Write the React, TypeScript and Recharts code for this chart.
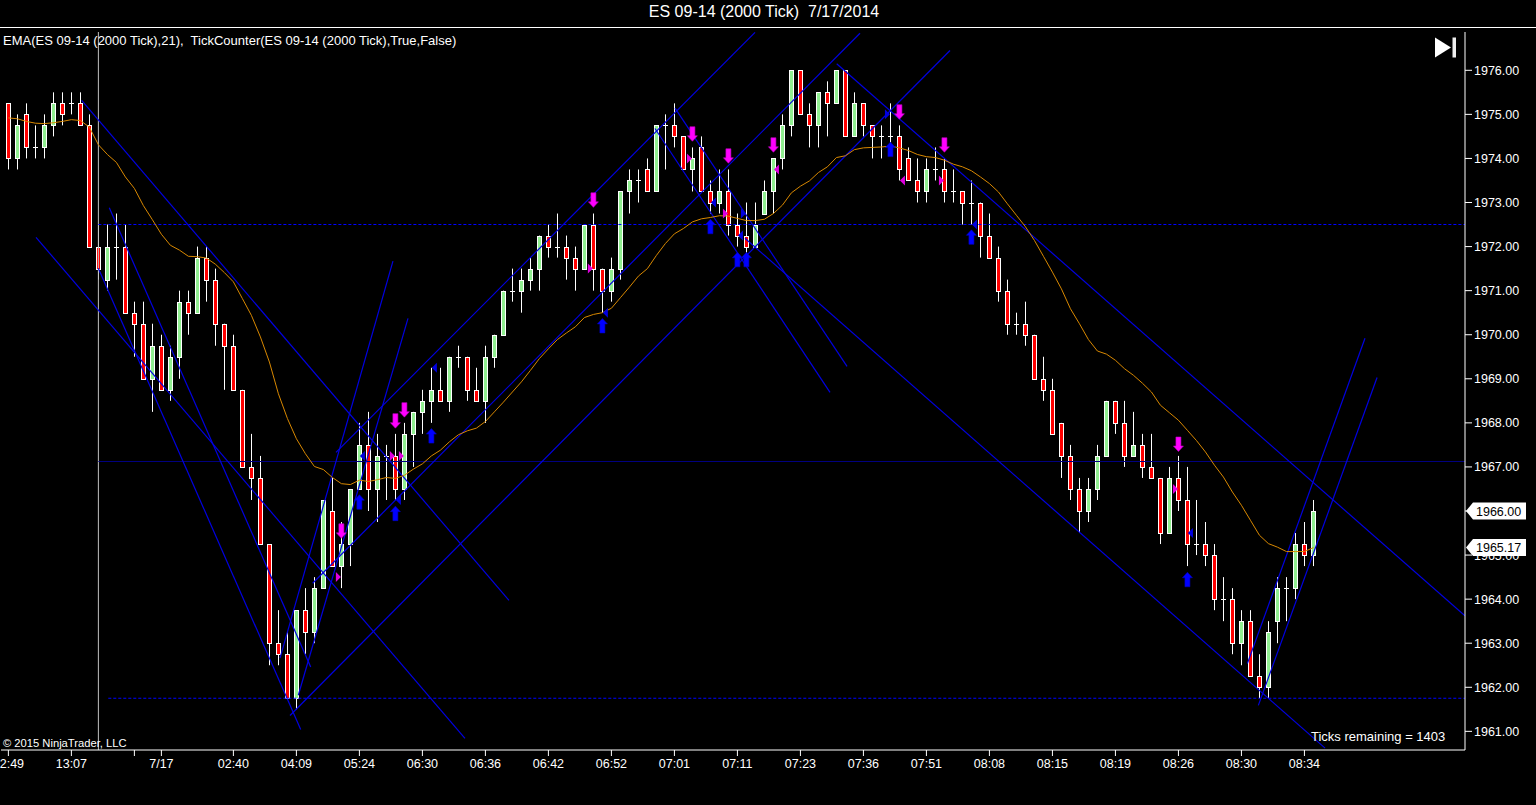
import { ComposedChart, Bar, Line, Scatter, XAxis, YAxis, ReferenceLine, ReferenceDot } from 'recharts';

// candles at the 0.25 tick size
const opens = [
  1975.25, 1974, 1975, 1974.25, 1974.25, 1974.75, 1975.25, 1975.25, 1975.25, 1974.75,
  1972, 1971.25, 1972, 1972, 1970.5, 1970.25, 1969, 1969.75, 1968.75, 1969.5,
  1970.75, 1970.5, 1971.75, 1971.25, 1970.25, 1969.75, 1968.75, 1967, 1966.75, 1965.25,
  1963, 1962.75, 1961.75, 1963.75, 1963.25, 1964.25, 1966, 1964.75, 1965.25, 1966.5,
  1967.5, 1966.5, 1967.25, 1967.25, 1966.5, 1967.75, 1968.25, 1968.5, 1968.75, 1968.5,
  1969.5, 1969.5, 1968.75, 1968.5, 1969.5, 1970, 1971, 1971, 1971.25, 1971.5,
  1972.25, 1972, 1972, 1971.75, 1971.5, 1972.5, 1971.5, 1971, 1971.5, 1973.25,
  1973.5, 1973.75, 1973.25, 1974.75, 1974.75, 1974.5, 1973.75, 1974.25, 1973.25, 1973,
  1973.25, 1972.5, 1972.25, 1972, 1972.75, 1973.25, 1974, 1974.75, 1976, 1975,
  1974.75, 1975.5, 1975.25, 1976, 1974.5, 1975.25, 1974.75, 1974.5, 1974.5, 1974.5,
  1974, 1973.5, 1973.25, 1973.75, 1973.75, 1973.25, 1973.25, 1973, 1973, 1972.25,
  1971.75, 1971, 1970.25, 1970.25, 1970, 1969, 1968.75, 1968, 1967.25, 1966.5,
  1966, 1966.5, 1967.25, 1968.5, 1968, 1967.25, 1967.5, 1967, 1966.75, 1965.5,
  1966.75, 1966.25, 1965.25, 1965.25, 1965, 1964, 1964, 1963, 1963.5, 1962.25,
  1962, 1963.5, 1964.25, 1964.25, 1965.25, 1965,
];
const highs = [
  1975.25, 1975, 1975.25, 1974.75, 1975, 1975.5, 1975.5, 1975.5, 1975.5, 1975,
  1972.5, 1972.5, 1972.75, 1972.5, 1970.75, 1970.75, 1970.25, 1970, 1969.75, 1971,
  1971, 1972, 1972, 1971.5, 1970.25, 1970, 1968.75, 1967.75, 1967.25, 1965.25,
  1963.75, 1963.25, 1963.75, 1964.25, 1964.5, 1966.25, 1966.75, 1965.75, 1966.5, 1968,
  1968.25, 1967.75, 1967.5, 1967.75, 1968, 1968.25, 1968.75, 1969.25, 1969.25, 1969.5,
  1969.75, 1969.5, 1969.25, 1969.75, 1970, 1971, 1971.5, 1971.5, 1971.75, 1972.25,
  1972.5, 1972.75, 1972.25, 1972, 1972.5, 1972.75, 1971.5, 1971.75, 1973.25, 1973.75,
  1973.75, 1974, 1974.75, 1975, 1975.25, 1974.5, 1974.25, 1974.5, 1973.5, 1973.75,
  1973.75, 1972.75, 1973, 1973, 1973.5, 1974, 1975, 1976, 1976, 1975.25,
  1975.5, 1975.75, 1976, 1976, 1975.5, 1975.25, 1974.75, 1974.75, 1975.25, 1974.75,
  1974.25, 1974, 1974, 1974.25, 1974, 1973.75, 1973.25, 1973.5, 1973, 1972.75,
  1972, 1971.25, 1970.5, 1970.75, 1970, 1969.5, 1969, 1968, 1967.5, 1966.75,
  1966.75, 1967.5, 1968.5, 1968.5, 1968.5, 1968.25, 1967.75, 1967.75, 1966.75, 1967,
  1967.25, 1967, 1966.25, 1965.75, 1965.25, 1964.5, 1964.25, 1963.75, 1963.75, 1962.75,
  1963.5, 1964.5, 1964.5, 1965.5, 1965.75, 1966.25,
];
const lows = [
  1973.75, 1973.75, 1974, 1974, 1974, 1974.5, 1974.75, 1975, 1974.75, 1972,
  1971.25, 1971, 1971.25, 1970.5, 1969.5, 1969, 1968.25, 1968.75, 1968.5, 1969,
  1970, 1970.5, 1970.75, 1969.75, 1968.75, 1968.75, 1967, 1966.25, 1965.25, 1962.5,
  1962.5, 1961.75, 1961.5, 1962.75, 1963, 1964.25, 1964.75, 1964.25, 1964.75, 1966.5,
  1966, 1965.75, 1966.25, 1966.25, 1966.25, 1967, 1967.75, 1968, 1968.5, 1968.25,
  1969.25, 1968.5, 1968.5, 1968, 1969.25, 1970, 1970.75, 1970.5, 1971, 1971,
  1971.75, 1971.75, 1971.25, 1971, 1971.5, 1971, 1970.5, 1970.75, 1971.25, 1972.75,
  1973, 1973.25, 1973.25, 1973.75, 1974.25, 1973.75, 1973.25, 1973.25, 1972.75, 1972.75,
  1972.25, 1972, 1971.75, 1972, 1972.75, 1972.75, 1973.75, 1974.5, 1975, 1974.25,
  1974.25, 1974.5, 1975.25, 1974.5, 1974.5, 1974.5, 1974, 1974, 1974.25, 1973.5,
  1973.5, 1973, 1973, 1973.5, 1973, 1973, 1972.5, 1972.5, 1971.75, 1971.75,
  1970.75, 1970, 1970, 1969.75, 1969, 1968.5, 1967.75, 1966.75, 1966.25, 1965.5,
  1965.75, 1966.25, 1967.25, 1967.75, 1967, 1967.25, 1966.75, 1966.75, 1965.25, 1965.5,
  1966, 1964.75, 1965, 1964.75, 1963.75, 1963.5, 1962.75, 1962.5, 1962.25, 1961.75,
  1961.75, 1963, 1963.5, 1964, 1964.75, 1964.75,
];
const closes = [
  1974, 1974.75, 1974.25, 1974.25, 1974.75, 1975.25, 1975, 1975.25, 1974.75, 1972,
  1971.5, 1972, 1972, 1970.5, 1970.25, 1969, 1969.75, 1968.75, 1969.5, 1970.75,
  1970.5, 1971.75, 1971.25, 1970.25, 1969.75, 1968.75, 1967, 1966.75, 1965.25, 1963,
  1962.75, 1961.75, 1963.75, 1963.25, 1964.25, 1966.25, 1964.75, 1965.25, 1966.5, 1967.5,
  1966.5, 1967.25, 1967.25, 1966.5, 1967.75, 1968.25, 1968.5, 1968.75, 1968.5, 1969.5,
  1969.5, 1968.75, 1968.5, 1969.5, 1970, 1971, 1971, 1971.25, 1971.5, 1972.25,
  1972, 1972, 1971.75, 1971.5, 1972.5, 1971.5, 1971, 1971.5, 1973.25, 1973.5,
  1973.5, 1973.25, 1974.75, 1974.75, 1974.5, 1973.75, 1974, 1973.25, 1973, 1973.25,
  1972.5, 1972.25, 1972, 1972.5, 1973.25, 1974, 1974.75, 1976, 1975, 1974.75,
  1975.5, 1975.25, 1976, 1974.5, 1975.25, 1974.75, 1974.5, 1974.5, 1974.5, 1973.75,
  1973.5, 1973.25, 1973.75, 1973.75, 1973.25, 1973.25, 1973, 1973, 1972.25, 1971.75,
  1971, 1970.25, 1970.25, 1970, 1969, 1968.75, 1967.75, 1967.25, 1966.5, 1966,
  1966.5, 1967.25, 1968.5, 1968, 1967.25, 1967.5, 1967, 1966.75, 1965.5, 1966.75,
  1966.25, 1965.25, 1965.25, 1965, 1964, 1964, 1963, 1963.5, 1962.25, 1962,
  1963.25, 1964.25, 1964.25, 1965.25, 1965, 1966,
];
const ema = [
  1974.92, 1974.9, 1974.84, 1974.8, 1974.79, 1974.81, 1974.84, 1974.88, 1974.86, 1974.71,
  1974.31, 1974.09, 1973.91, 1973.58, 1973.32, 1972.93, 1972.61, 1972.28, 1972.03, 1971.92,
  1971.78, 1971.77, 1971.74, 1971.6, 1971.41, 1971.2, 1970.82, 1970.44, 1969.95, 1969.38,
  1968.66, 1968.1, 1967.64, 1967.3, 1967.01, 1966.94, 1966.76, 1966.62, 1966.6, 1966.7,
  1966.67, 1966.71, 1966.76, 1966.74, 1966.81, 1966.95, 1967.07, 1967.25, 1967.38, 1967.57,
  1967.73, 1967.82, 1967.88, 1968.03, 1968.25, 1968.47, 1968.7, 1968.93, 1969.19, 1969.46,
  1969.68, 1969.89, 1970.04, 1970.18, 1970.39, 1970.46, 1970.5, 1970.6, 1970.84, 1971.08,
  1971.33, 1971.5, 1971.8, 1972.07, 1972.29, 1972.41, 1972.56, 1972.63, 1972.66, 1972.7,
  1972.69, 1972.64, 1972.59, 1972.59, 1972.62, 1972.75, 1972.94, 1973.22, 1973.37, 1973.49,
  1973.68, 1973.81, 1974.02, 1974.06, 1974.2, 1974.24, 1974.25, 1974.26, 1974.28, 1974.24,
  1974.18, 1974.09, 1974.04, 1974.02, 1973.96, 1973.87, 1973.81, 1973.72, 1973.58, 1973.43,
  1973.24, 1972.97, 1972.71, 1972.45, 1972.14, 1971.78, 1971.42, 1971.04, 1970.59, 1970.25,
  1969.89, 1969.63, 1969.56, 1969.42, 1969.23, 1969.08, 1968.9, 1968.7, 1968.4, 1968.23,
  1968.06, 1967.83, 1967.6, 1967.34, 1967.04, 1966.77, 1966.43, 1966.13, 1965.79, 1965.45,
  1965.26, 1965.18, 1965.08, 1965.08, 1965.08, 1965.17,
];

const xTicks = [0, 7, 14, 17, 25, 32, 39, 46, 53, 60, 67, 74, 81, 88, 95, 102, 109, 116, 123, 130, 137, 144];
const xLabels = ['12:49', '13:07', '', '7/17', '02:40', '04:09', '05:24', '06:30', '06:36', '06:42', '06:52', '07:01', '07:11', '07:23', '07:36', '07:51', '08:08', '08:15', '08:19', '08:26', '08:30', '08:34'];
const yTicks = [1961, 1962, 1963, 1964, 1965, 1966, 1967, 1968, 1969, 1970, 1971, 1972, 1973, 1974, 1975, 1976];

// drawn trend lines: [bar, price, bar, price]
const trendLines = [
  [8.14, 1975.32, 55.62, 1963.97],
  [3.07, 1972.21, 50.73, 1960.84],
  [11.21, 1972.88, 33.59, 1962.46],
  [9.99, 1971.51, 32.48, 1961.04],
  [30.18, 1962.66, 42.73, 1971.67],
  [32.21, 1961.82, 44.4, 1970.37],
  [36.4, 1967.33, 82.96, 1976.86],
  [33.81, 1964.36, 94.62, 1976.84],
  [31.29, 1961.36, 104.62, 1976.45],
  [71.84, 1974.68, 91.29, 1968.69],
  [74.07, 1975.14, 93.18, 1969.28],
  [92.03, 1976.15, 161.84, 1963.62],
  [81.84, 1972.19, 146.29, 1960.62],
  [137.66, 1962.54, 150.73, 1969.92],
  [138.88, 1961.59, 152.07, 1969.03],
];

const downArrows = [
  { x: 37, y: 1965.55 }, { x: 43, y: 1968.05 }, { x: 44, y: 1968.3 }, { x: 65, y: 1973.06 }, { x: 76, y: 1974.56 },
  { x: 80, y: 1974.06 }, { x: 85, y: 1974.31 }, { x: 99, y: 1975.06 }, { x: 104, y: 1974.31 }, { x: 130, y: 1967.52 },
];
const upArrows = [
  { x: 39, y: 1966.2 }, { x: 43, y: 1965.94 }, { x: 47, y: 1967.7 }, { x: 66, y: 1970.2 }, { x: 78, y: 1972.45 },
  { x: 81, y: 1971.7 }, { x: 82, y: 1971.7 }, { x: 98, y: 1974.2 }, { x: 107, y: 1972.21 }, { x: 131, y: 1964.44 },
];
const magentaRight = [
  { x: 37, y: 1964.5 }, { x: 43, y: 1967.25 }, { x: 44, y: 1967.25 }, { x: 65, y: 1971.5 },
  { x: 76, y: 1974 }, { x: 80, y: 1972.75 }, { x: 104, y: 1973.5 }, { x: 130, y: 1966.5 },
];
const magentaLeft = [{ x: 85, y: 1973.75 }, { x: 99, y: 1973.5 }];
const blueLeft = [
  { x: 39, y: 1967.25 }, { x: 43, y: 1966.25 }, { x: 47, y: 1969.25 }, { x: 66, y: 1970.5 },
  { x: 78, y: 1973 }, { x: 81, y: 1972.25 }, { x: 107, y: 1972.5 }, { x: 131, y: 1965.5 },
];
const blueRight = [{ x: 82, y: 1972.75 }, { x: 98, y: 1975 }];

const chartData = opens.map((open, i) => ({
  x: i,
  open,
  high: highs[i],
  low: lows[i],
  close: closes[i],
  range: [lows[i], highs[i]],
  ema: ema[i],
}));

const X_MIN = -0.82;
const X_MAX = 161.84;

function Candle(props: any) {
  const { x, y, width, height, payload } = props;
  const cx = Math.round(x + width / 2) + 0.5;
  const perPoint = height / (payload.high - payload.low);
  const yOf = (p: number) => y + (payload.high - p) * perPoint;
  const top = Math.round(yOf(Math.max(payload.open, payload.close))) + 0.5;
  const bottom = Math.round(yOf(Math.min(payload.open, payload.close))) + 0.5;
  if (payload.open === payload.close) {
    return (
      <g>
        <line x1={cx} x2={cx} y1={y} y2={y + height} stroke="#fff" />
        <line x1={cx - 2.5} x2={cx + 2.5} y1={top} y2={top} stroke="#fff" />
      </g>
    );
  }
  return (
    <g>
      <line x1={cx} x2={cx} y1={y} y2={y + height} stroke="#fff" />
      <rect
        x={cx - 2}
        y={top}
        width={4}
        height={bottom - top}
        fill={payload.close > payload.open ? '#90ee90' : '#ff0000'}
        stroke="#fff"
        strokeWidth={1}
      />
    </g>
  );
}

const ArrowDown = ({ cx, cy }: any) => (
  <polygon
    points={`${cx - 2.5},${cy - 7} ${cx + 2.5},${cy - 7} ${cx + 2.5},${cy + 2} ${cx + 5},${cy + 2} ${cx},${cy + 7.5} ${cx - 5},${cy + 2} ${cx - 2.5},${cy + 2}`}
    fill="#ff00ff"
    stroke="#c000c0"
    strokeWidth={0.6}
  />
);

const ArrowUp = ({ cx, cy }: any) => (
  <polygon
    points={`${cx - 2.5},${cy + 7} ${cx + 2.5},${cy + 7} ${cx + 2.5},${cy - 2} ${cx + 5},${cy - 2} ${cx},${cy - 7.5} ${cx - 5},${cy - 2} ${cx - 2.5},${cy - 2}`}
    fill="#0000ff"
    stroke="#0000c0"
    strokeWidth={0.6}
  />
);

// small tick markers sit beside the candle, pointing back at it
const triangle = (fill: string, side: number) => ({ cx, cy }: any) => (
  <polygon
    points={`${cx + side * 5.5},${cy - 5} ${cx + side * 0.5},${cy} ${cx + side * 5.5},${cy + 5}`}
    fill={fill}
  />
);

const PriceFlag = (label: string) => ({ cx, cy }: any) => (
  <g>
    <polygon
      points={`${cx + 1},${cy} ${cx + 8},${cy - 8.5} ${cx + 61},${cy - 8.5} ${cx + 61},${cy + 8.5} ${cx + 8},${cy + 8.5}`}
      fill="#fff"
    />
    <text x={cx + 11} y={cy + 4.5} fontSize={12.5} fontFamily="Liberation Sans" fill="#000">
      {label}
    </text>
  </g>
);

const textStyle = {
  position: 'absolute' as const,
  color: '#fff',
  fontFamily: '"Liberation Sans", Arial, sans-serif',
  whiteSpace: 'pre' as const,
};

export default function App() {
  return (
    <div style={{ position: 'absolute', left: 0, top: 0, width: 1536, height: 805, background: '#000', overflow: 'hidden' }}>
      <ComposedChart
        width={1536}
        height={803}
        data={chartData}
        margin={{ top: 32, right: 0, left: 1, bottom: 0 }}
      >
        <XAxis
          dataKey="x"
          type="number"
          domain={[X_MIN, X_MAX]}
          allowDataOverflow
          ticks={xTicks}
          interval={0}
          height={53}
          stroke="#fff"
          tickSize={6}
          tickMargin={3}
          tick={{ fill: '#fff', fontSize: 12.5, fontFamily: 'Liberation Sans' }}
          tickFormatter={(v: number) => xLabels[xTicks.indexOf(v)]}
        />
        <YAxis
          type="number"
          orientation="right"
          domain={[1960.577, 1976.869]}
          allowDataOverflow
          ticks={yTicks}
          interval={0}
          width={71}
          stroke="#fff"
          tickSize={7}
          tickMargin={2}
          tick={{ fill: '#fff', fontSize: 12.5, fontFamily: 'Liberation Sans' }}
          tickFormatter={(v: number) => v.toFixed(2)}
        />
        <ReferenceLine x={10} stroke="#c0c0c0" />
        <ReferenceLine stroke="#000080" segment={[{ x: 10, y: 1967.123 }, { x: X_MAX, y: 1967.123 }]} />
        <Bar dataKey="range" barSize={5} shape={Candle} isAnimationActive={false} />
        <ReferenceLine
          stroke="#0000ff"
          strokeWidth={1.1}
          strokeDasharray="3 2"
          segment={[{ x: 10, y: 1972.5 }, { x: X_MAX, y: 1972.5 }]}
        />
        <ReferenceLine
          stroke="#0000ff"
          strokeWidth={1.1}
          strokeDasharray="3 2"
          segment={[{ x: 11.1, y: 1961.75 }, { x: X_MAX, y: 1961.75 }]}
        />
        {trendLines.map((t, i) => (
          <ReferenceLine
            key={i}
            stroke="#0000e0"
            strokeWidth={1.2}
            ifOverflow="hidden"
            segment={[{ x: t[0], y: t[1] }, { x: t[2], y: t[3] }]}
          />
        ))}
        <Line dataKey="ema" stroke="#d88800" strokeWidth={1} dot={false} isAnimationActive={false} />
        <Scatter data={downArrows} dataKey="y" shape={ArrowDown} isAnimationActive={false} />
        <Scatter data={upArrows} dataKey="y" shape={ArrowUp} isAnimationActive={false} />
        <Scatter data={magentaRight} dataKey="y" shape={triangle('#e000e0', -1)} isAnimationActive={false} />
        <Scatter data={magentaLeft} dataKey="y" shape={triangle('#e000e0', 1)} isAnimationActive={false} />
        <Scatter data={blueLeft} dataKey="y" shape={triangle('#0000e0', 1)} isAnimationActive={false} />
        <Scatter data={blueRight} dataKey="y" shape={triangle('#0000e0', -1)} isAnimationActive={false} />
        <ReferenceDot x={X_MAX} y={1966} r={0} ifOverflow="visible" zIndex={3000} shape={PriceFlag('1966.00')} />
        <ReferenceDot x={X_MAX} y={1965.17} r={0} ifOverflow="visible" zIndex={3000} shape={PriceFlag('1965.17')} />
      </ComposedChart>
      <div style={{ ...textStyle, left: 0, top: 27, width: 1536, height: 1, background: '#fff' }} />
      <div style={{ ...textStyle, left: 0, top: 3, width: 1528, textAlign: 'center', fontSize: 16 }}>
        {'ES 09-14 (2000 Tick)  7/17/2014'}
      </div>
      <div style={{ ...textStyle, left: 3, top: 33, fontSize: 13 }}>
        {'EMA(ES 09-14 (2000 Tick),21),  TickCounter(ES 09-14 (2000 Tick),True,False)'}
      </div>
      <div style={{ ...textStyle, left: 3, top: 737, fontSize: 11.2 }}>{'© 2015 NinjaTrader, LLC'}</div>
      <div style={{ ...textStyle, left: 1311, top: 729, fontSize: 13 }}>{'Ticks remaining = 1403'}</div>
      <svg style={{ position: 'absolute', left: 1430, top: 32 }} width={30} height={30}>
        <polygon points="5,5.5 21,15.5 5,25.5" fill="#fff" />
        <rect x={22.5} y={5.5} width={3.5} height={20} fill="#eee" />
      </svg>
    </div>
  );
}
